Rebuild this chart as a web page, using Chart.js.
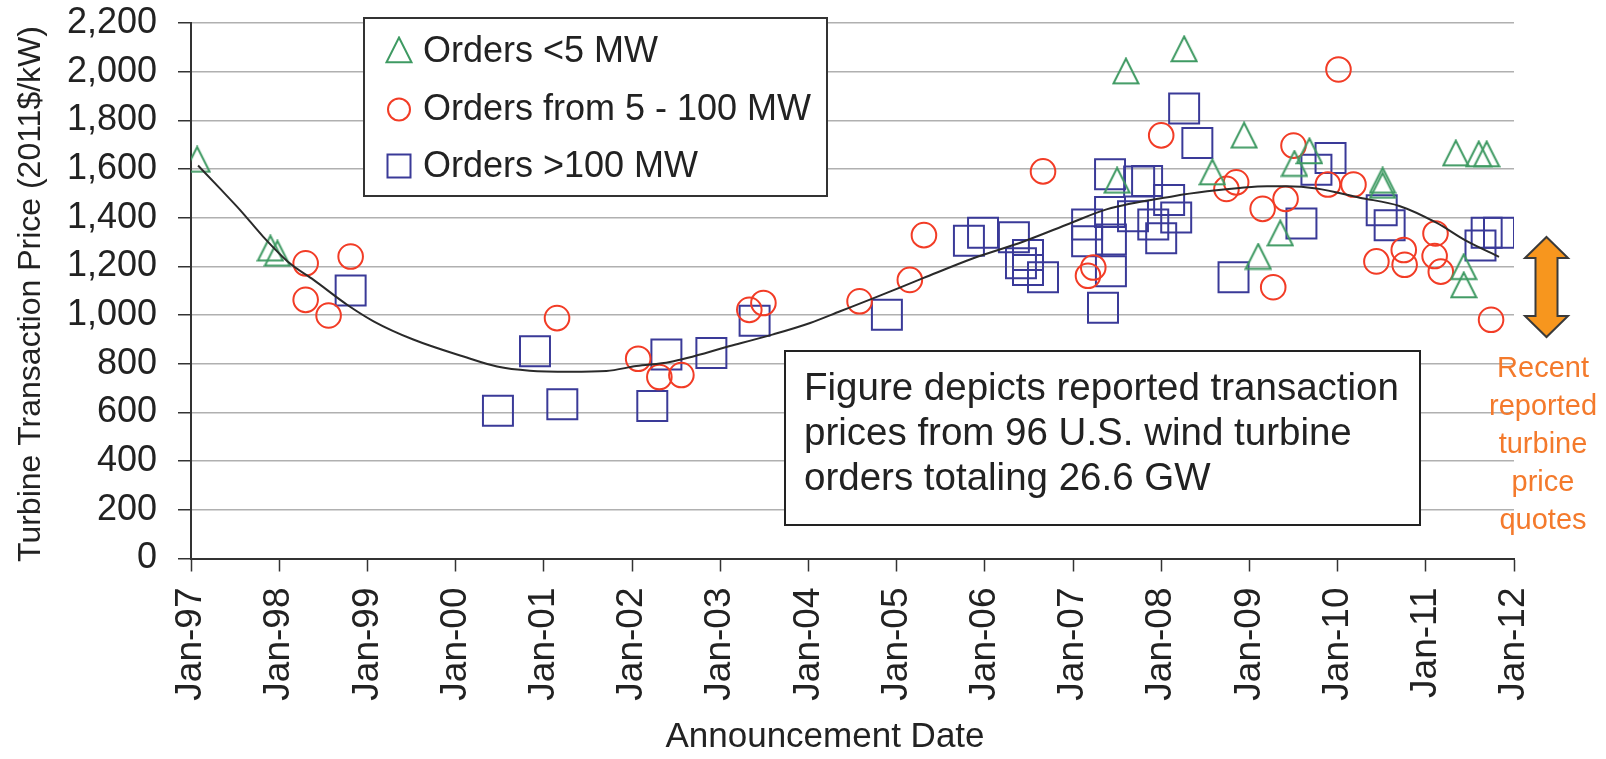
<!DOCTYPE html>
<html>
<head>
<meta charset="utf-8">
<script src="https://cdn.jsdelivr.net/npm/chart.js@4.4.1/dist/chart.umd.min.js"></script>
<style>
html,body{margin:0;padding:0;background:#ffffff;}
#wrap{width:1606px;height:759px;position:relative;}
</style>
</head>
<body>
<div id="wrap"><canvas id="c"></canvas></div>
<script>
// ---------- data ----------
const xTickValues = [1997,1998,1999,2000,2001,2002,2003,2004,2005,2006,2007,2008,2009,2010,2011,2012];
const xTickLabels = ['Jan-97','Jan-98','Jan-99','Jan-00','Jan-01','Jan-02','Jan-03','Jan-04','Jan-05','Jan-06','Jan-07','Jan-08','Jan-09','Jan-10','Jan-11','Jan-12'];
const yTickValues = [0,200,400,600,800,1000,1200,1400,1600,1800,2000,2200];
const yTickLabels = ['0','200','400','600','800','1,000','1,200','1,400','1,600','1,800','2,000','2,200'];

const seriesNames = ['Orders <5 MW','Orders from 5 - 100 MW','Orders >100 MW'];

// Orders <5 MW (triangles)
const smallX = [1997.07,1997.90,1997.98,2007.50,2007.60,2008.26,2008.58,2008.94,2009.10,2009.35,2009.51,2009.68,2010.51,2010.51,2011.34,2011.60,2011.69,2011.43,2011.43];
const smallY = [1640,1275,1254,1554,2003,2094,1588,1739,1241,1337,1623,1675,1554,1533,1666,1662,1662,1199,1124];

// Orders from 5 - 100 MW (circles)
const midX = [1998.30,1998.81,1998.30,1998.56,2001.15,2002.07,2002.31,2002.56,2003.33,2003.49,2004.58,2005.15,2005.31,2006.66,2007.23,2007.17,2008.00,2008.74,2008.85,2009.15,2009.27,2009.41,2009.50,2009.89,2010.01,2010.18,2010.44,2010.75,2010.76,2011.10,2011.11,2011.17,2011.74];
const midY = [1213,1241,1063,999,988,821,746,754,1022,1050,1057,1145,1329,1591,1196,1162,1739,1519,1546,1437,1115,1478,1697,1537,2010,1537,1221,1268,1207,1243,1336,1179,981];

// Orders >100 MW (squares)
const largeX = [1998.81,2000.48,2000.90,2001.21,2002.23,2002.39,2002.90,2003.39,2004.89,2005.82,2005.98,2006.33,2006.41,2006.49,2006.49,2006.66,2007.16,2007.16,2007.34,2007.42,2007.42,2007.43,2007.43,2007.68,2007.75,2007.84,2007.91,2008.00,2008.09,2008.17,2008.26,2008.41,2008.82,2009.59,2009.76,2009.92,2010.50,2010.59,2011.62,2011.69,2011.83];
const largeY = [1101,607,852,634,627,838,845,977,1002,1306,1339,1320,1213,1247,1186,1156,1373,1304,1031,1579,1424,1311,1181,1407,1549,1551,1373,1316,1473,1401,1849,1708,1156,1377,1598,1646,1431,1370,1286,1339,1339];

// trend line
const trendX = [1997.08,1997.33,1997.56,1997.82,1998.12,1998.39,1998.77,1999.07,1999.52,2000.09,2000.47,2000.84,2001.30,2001.71,2002.05,2002.43,2003.11,2003.60,2004.02,2004.36,2004.74,2005.30,2005.87,2006.44,2006.97,2007.38,2008.14,2008.52,2008.89,2009.20,2009.42,2009.76,2010.25,2010.70,2011.12,2011.46,2011.83];
const trendY = [1615,1520,1431,1322,1213,1145,1043,975,900,830,789,772,768,771,791,808,873,921,968,1016,1070,1152,1234,1303,1378,1435,1489,1509,1523,1530,1530,1521,1483,1449,1380,1305,1240];

const noteLines = ['Figure depicts reported transaction','prices from 96 U.S. wind turbine','orders totaling 26.6 GW'];
const quoteLines = ['Recent','reported','turbine','price','quotes'];
const xTitle = 'Announcement Date';
const yTitle = 'Turbine Transaction Price (2011$/kW)';

// ---------- styles ----------
const FONT = "'Liberation Sans', Arial, Helvetica, sans-serif";
const GREEN = '#3f9a63';
const RED = '#f23c26';
const BLUE = '#3a3a98';
const TEXT = '#222222';
const ORANGE_TXT = '#f47a2c';
const ORANGE_FILL = '#f7961e';

function pts(xs, ys){ return xs.map((x,i)=>({x:x, y:ys[i]})); }

// hollow triangle marker
const tri = document.createElement('canvas');
tri.width = 28; tri.height = 28;
(function(){
  const t = tri.getContext('2d');
  t.strokeStyle = GREEN; t.lineWidth = 2; t.lineJoin = 'miter';
  t.beginPath(); t.moveTo(14, 1.5); t.lineTo(26.5, 26.2); t.lineTo(1.5, 26.2); t.closePath(); t.stroke();
})();

const decor = {
  id: 'decor',
  afterDraw(chart){
    const ctx = chart.ctx;
    ctx.save();
    // ----- legend box -----
    ctx.fillStyle = '#ffffff';
    ctx.fillRect(364, 18, 463, 178);
    ctx.strokeStyle = '#333333'; ctx.lineWidth = 2;
    ctx.strokeRect(364, 18, 463, 178);
    ctx.drawImage(tri, 399-14, 50-14);
    ctx.strokeStyle = RED; ctx.lineWidth = 2;
    ctx.beginPath(); ctx.arc(399, 109.5, 11, 0, Math.PI*2); ctx.stroke();
    ctx.strokeStyle = BLUE;
    ctx.strokeRect(399-11.5, 166-11.5, 23, 23);
    ctx.fillStyle = TEXT;
    ctx.font = '36px ' + FONT;
    ctx.textAlign = 'left'; ctx.textBaseline = 'alphabetic';
    ctx.fillText(seriesNames[0], 423, 62);
    ctx.fillText(seriesNames[1], 423, 120);
    ctx.fillText(seriesNames[2], 423, 177);

    // ----- note box -----
    ctx.fillStyle = '#ffffff';
    ctx.fillRect(785, 351, 635, 174);
    ctx.strokeStyle = '#222222'; ctx.lineWidth = 2;
    ctx.strokeRect(785, 351, 635, 174);
    ctx.fillStyle = TEXT;
    ctx.font = '38.5px ' + FONT;
    noteLines.forEach((s,i)=>ctx.fillText(s, 804, 400 + i*45));

    // ----- orange double arrow -----
    const cx = 1546.5, top = 237, bot = 337, hw = 21.5, sw = 11, hh = 21;
    ctx.beginPath();
    ctx.moveTo(cx, top);
    ctx.lineTo(cx+hw, top+hh); ctx.lineTo(cx+sw, top+hh);
    ctx.lineTo(cx+sw, bot-hh); ctx.lineTo(cx+hw, bot-hh);
    ctx.lineTo(cx, bot);
    ctx.lineTo(cx-hw, bot-hh); ctx.lineTo(cx-sw, bot-hh);
    ctx.lineTo(cx-sw, top+hh); ctx.lineTo(cx-hw, top+hh);
    ctx.closePath();
    ctx.fillStyle = ORANGE_FILL; ctx.fill();
    ctx.strokeStyle = '#3a3a3a'; ctx.lineWidth = 2; ctx.lineJoin = 'miter'; ctx.stroke();

    // ----- orange note -----
    ctx.fillStyle = ORANGE_TXT;
    ctx.font = '29px ' + FONT;
    ctx.textAlign = 'center';
    quoteLines.forEach((s,i)=>ctx.fillText(s, 1543, 377 + i*38));

    // ----- axis titles -----
    ctx.fillStyle = TEXT;
    ctx.font = '35px ' + FONT;
    ctx.textAlign = 'center'; ctx.textBaseline = 'middle';
    ctx.fillText(xTitle, 825, 737);
    ctx.translate(31, 294);
    ctx.rotate(-Math.PI/2);
    ctx.font = '32px ' + FONT;
    ctx.fillText(yTitle, 0, 0);
    ctx.restore();
  }
};

new Chart(document.getElementById('c'), {
  type: 'scatter',
  data: {
    datasets: [
      { type:'line', label:'trend', data: pts(trendX, trendY), borderColor:'#2a2a2a', borderWidth:2,
        pointRadius:0, fill:false, cubicInterpolationMode:'monotone', order:0 },
      { label: seriesNames[0], data: pts(smallX, smallY), pointStyle: tri, pointRadius: 14, order:1 },
      { label: seriesNames[1], data: pts(midX, midY), pointStyle:'circle', pointRadius: 12.3,
        borderColor: RED, borderWidth: 2, backgroundColor:'rgba(0,0,0,0)', order:2 },
      { label: seriesNames[2], data: pts(largeX, largeY), pointStyle:'rect', pointRadius: 21.2,
        borderColor: BLUE, borderWidth: 2, backgroundColor:'rgba(0,0,0,0)', order:3 }
    ]
  },
  options: {
    responsive: true,
    maintainAspectRatio: false,
    devicePixelRatio: 1,
    animation: false,
    events: [],
    layout: { padding: { left: 0, right: 92, top: 22, bottom: 0 } },
    plugins: { legend: { display:false }, tooltip: { enabled:false }, title: { display:false } },
    scales: {
      x: {
        type: 'linear', min: 1997, max: 2012,
        afterBuildTicks: (s) => { s.ticks = xTickValues.map(v => ({ value: v })); },
        afterFit: (s) => { s.height = 200.5; s.paddingLeft = 0; s.paddingRight = 0; },
        ticks: { autoSkip:false, minRotation:90, maxRotation:90, padding:16, color: TEXT,
                 font: { family: FONT, size: 37 }, callback: (v, i) => xTickLabels[i] },
        grid: { drawOnChartArea:false, drawTicks:true, tickLength:13, tickColor:'#333333', tickWidth:1.5 },
        border: { color:'#333333', width:2 }
      },
      y: {
        min: 0, max: 2200,
        afterBuildTicks: (s) => { s.ticks = yTickValues.map(v => ({ value: v })); },
        afterFit: (s) => { s.width = 191; s.paddingTop = 0; s.paddingBottom = 0; },
        ticks: { padding:21, color: TEXT, font: { family: FONT, size: 36 }, callback: (v, i) => yTickLabels[i] },
        grid: { color:'#b0b0b0', lineWidth:1.5, drawTicks:true, tickLength:13, tickColor:'#333333', tickWidth:1.5 },
        border: { color:'#333333', width:2 }
      }
    }
  },
  plugins: [decor]
});
</script>
</body>
</html>
